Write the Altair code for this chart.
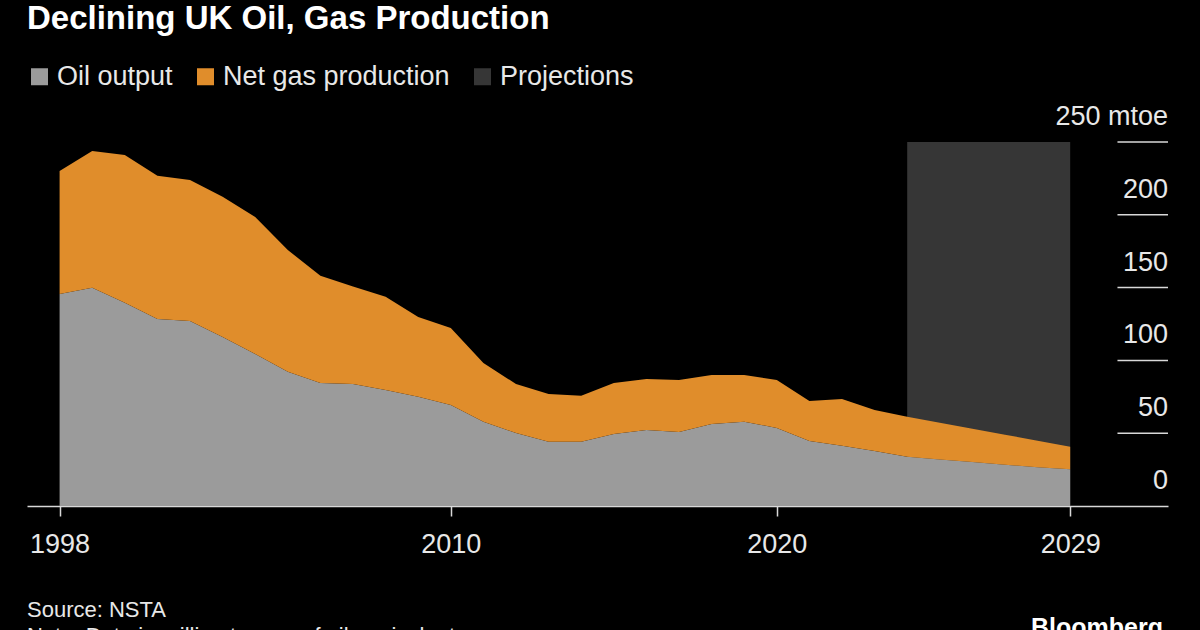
import altair as alt
import pandas as pd

# ---- data (million tonnes of oil equivalent) ----
years = list(range(1998, 2030))
oil_output = [145.6, 149.9, 139.6, 128.4, 127.1, 116.0, 104.4, 92.2, 84.4, 83.8,
              79.7, 75.1, 69.4, 57.9, 50.1, 44.2, 44.2, 49.5, 52.2, 50.8,
              56.3, 57.9, 53.6, 44.6, 41.4, 37.8, 33.9, 32.0, 30.2, 28.4,
              26.6, 25.2]
net_gas = [84.5, 93.9, 101.5, 98.5, 96.8, 96.4, 94.1, 83.6, 73.8, 67.0,
           64.0, 54.7, 52.9, 40.3, 33.7, 32.7, 31.6, 35.0, 35.0, 35.7,
           33.7, 32.1, 32.9, 27.5, 32.1, 28.1, 27.4, 25.2, 22.9, 20.6,
           18.3, 15.5]
projection_start = 2024
projection_end = 2029
y_ticks = [0, 50, 100, 150, 200, 250]
y_tick_labels = ["0", "50", "100", "150", "200", "250 mtoe"]
x_ticks = [1998, 2010, 2020, 2029]
x_domain = [1997, 2032]
y_domain = [0, 250]
grid_start = 2030.45
series_names = ["Oil output", "Net gas production", "Projections"]
series_colors = ["#9b9b9b", "#e08d2b", "#363636"]

TITLE = "Declining UK Oil, Gas Production"
SOURCE = "Source: NSTA"
NOTE = "Note: Data in million tonnes of oil equivalent"
BRAND = "Bloomberg"

FONT = "Liberation Sans"
TEXT_COLOR = "#e8e8e8"

df = pd.DataFrame({"year": years, "oil": oil_output, "gas": net_gas})
df["total"] = df["oil"] + df["gas"]
oil_df = df.assign(series="Oil output")
gas_df = df.assign(series="Net gas production")
proj_df = pd.DataFrame({"s": [projection_start], "e": [projection_end],
                        "top": [y_domain[1]], "bottom": [y_domain[0]],
                        "series": ["Projections"]})

x_scale = alt.Scale(domain=x_domain, nice=False, zero=False)
y_scale = alt.Scale(domain=y_domain, nice=False)

color_scale = alt.Scale(domain=series_names, range=series_colors)
legend = alt.Legend(
    orient="none", legendX=-1, legendY=-79, direction="horizontal", title=None,
    symbolType="square", symbolSize=289, symbolStrokeWidth=0,
    labelFontSize=27, labelColor=TEXT_COLOR, labelFont=FONT, labelLimit=0,
    columnPadding=19, labelOffset=4, padding=0,
)
color_enc = alt.Color("series:N", scale=color_scale, legend=legend)

x_axis = alt.Axis(
    values=x_ticks, format="d", title=None, grid=False,
    labelFont=FONT, labelFontSize=27, labelColor=TEXT_COLOR,
    tickColor="#d8d8d8", tickSize=10, tickWidth=1.5,
    domainColor="#d8d8d8", domainWidth=1.5, labelPadding=15,
)

proj = alt.Chart(proj_df).mark_rect().encode(
    x=alt.X("s:Q", scale=x_scale, axis=x_axis),
    x2="e:Q",
    y=alt.Y("top:Q", scale=y_scale, axis=None),
    y2="bottom:Q",
    color=color_enc,
)

oil_area = alt.Chart(oil_df).mark_area(opacity=1).encode(
    x=alt.X("year:Q", scale=x_scale),
    y=alt.Y("oil:Q", scale=y_scale, axis=None),
    color=color_enc,
)

gas_area = alt.Chart(gas_df).mark_area(opacity=1).encode(
    x=alt.X("year:Q", scale=x_scale),
    y=alt.Y("total:Q", scale=y_scale, axis=None),
    y2="oil:Q",
    color=color_enc,
)

grid_df = pd.DataFrame({"v": y_ticks[1:], "x1": grid_start, "x2": x_domain[1]})
grid = alt.Chart(grid_df).mark_rule(color="#d8d8d8", strokeWidth=1.5).encode(
    x=alt.X("x1:Q", scale=x_scale),
    x2="x2:Q",
    y=alt.Y("v:Q", scale=y_scale, axis=None),
)

lab_df = pd.DataFrame({"v": y_ticks, "t": y_tick_labels, "xr": x_domain[1]})
ylabels = alt.Chart(lab_df).mark_text(
    align="right", baseline="alphabetic", dy=-17, font=FONT, fontSize=27, color=TEXT_COLOR
).encode(
    x=alt.X("xr:Q", scale=x_scale),
    y=alt.Y("v:Q", scale=y_scale, axis=None),
    text="t:N",
)

def text_layer(txt, x, y, size, weight="normal", align="left", color=TEXT_COLOR):
    return alt.Chart(pd.DataFrame({"t": [txt]})).mark_text(
        align=align, baseline="alphabetic", font=FONT, fontSize=size,
        fontWeight=weight, color=color
    ).encode(x=alt.value(x), y=alt.value(y), text="t:N")

title = text_layer(TITLE, 0, -113.5, 33, "bold", color="#ffffff")
source = text_layer(SOURCE, 0, 474.5, 22)
note = text_layer(NOTE, 0, 501, 22)
brand = text_layer(BRAND, 1136, 494, 25, "bold", align="right", color="#ffffff")

chart = alt.layer(
    proj, oil_area, gas_area, grid, ylabels, title, source, note, brand
).properties(
    width=1141, height=364,
    autosize=alt.AutoSizeParams(type="none"),
    padding={"left": 27, "top": 142, "right": 32, "bottom": 124},
    background="#000000",
).configure_view(stroke=None)

chart.save("out.html", embed_options={"renderer": "svg", "actions": False})
